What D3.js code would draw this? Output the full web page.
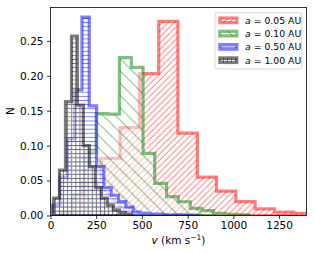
<!DOCTYPE html>
<html>
<head>
<meta charset="utf-8">
<script src="https://cdn.jsdelivr.net/npm/d3@7"></script>
<style>
body { margin: 0; background: #fff; }
text { font-family: "DejaVu Sans", sans-serif; }
</style>
</head>
<body>
<div id="chart"></div>
<script>
// tick values
const xTicks = [0, 250, 500, 750, 1000, 1250];
const yTicks = [0, 0.05, 0.10, 0.15, 0.20, 0.25];

// legend labels (a in AU)
const labels = ["0.05", "0.10", "0.50", "1.00"];

// bin edges (km/s) and fraction per bin
const redEdges = [64, 170, 275, 381, 486, 592, 697, 803, 908, 1014, 1119, 1225, 1330, 1436];
const redN = [0.005, 0.048, 0.082, 0.126, 0.203, 0.278, 0.118, 0.055, 0.035, 0.020, 0.0095, 0.005, 0.003];

const greenEdges = [55, 120, 184, 248, 313, 377, 442, 506, 570, 635, 699, 764, 828, 892, 957, 1021, 1086];
const greenN = [0.005, 0.03, 0.091, 0.146, 0.145, 0.226, 0.212, 0.089, 0.046, 0.027, 0.0197, 0.0103, 0.007, 0.003, 0.0015, 0.001];

const blueEdges = [12, 52, 92, 132, 172, 212, 252, 292, 332, 372, 412, 452, 492, 532, 572, 612, 652, 692, 732, 772, 812];
const blueN = [0.015, 0.055, 0.11, 0.180, 0.284, 0.157, 0.07, 0.04, 0.029, 0.02, 0.012, 0.005, 0.003, 0.002, 0.002, 0.001, 0.001, 0.001, 0.0005, 0.0005];

const grayEdges = [16, 49, 82, 115, 147, 180, 213, 246, 278, 311, 344, 377, 409, 442];
const grayN = [0.025, 0.065, 0.163, 0.257, 0.158, 0.10, 0.07, 0.04, 0.025, 0.015, 0.008, 0.004, 0.002];

const series = [
  {edges: redEdges, n: redN, color: "#ff0000", hatch: "h-red"},
  {edges: greenEdges, n: greenN, color: "#008000", hatch: "h-green"},
  {edges: blueEdges, n: blueN, color: "#0000ff", hatch: "h-blue"},
  {edges: grayEdges, n: grayN, color: "#000000", hatch: "h-gray"}
];

let svg_width = 315;
let svg_height = 253;
let plot = {left: 50.5, right: 306.5, top: 7.5, bottom: 215.5};

let svg = d3.select("#chart")
  .append("svg")
  .attr("width", svg_width)
  .attr("height", svg_height);

let x = d3.scaleLinear().domain([0, 1400]).range([plot.left, plot.right]);
let y = d3.scaleLinear().domain([0, 0.2978]).range([plot.bottom, plot.top]);

// hatch patterns, anchored to the page origin like matplotlib
let defs = svg.append("defs");

function diag(id, s, color, up) {
  let p = defs.append("pattern").attr("id", id)
    .attr("patternUnits", "userSpaceOnUse")
    .attr("width", s).attr("height", s);
  let d = up
    ? `M-1,1 l2,-2 M0,${s} l${s},${-s} M${s - 1},${s + 1} l2,-2`
    : `M-1,${s - 1} l2,2 M0,0 l${s},${s} M${s - 1},-1 l2,2`;
  p.append("path").attr("d", d)
    .attr("stroke", color).attr("stroke-opacity", 0.5)
    .attr("stroke-width", 1).attr("fill", "none");
}
diag("h-red", 6.15, "#ff0000", true);
diag("h-green", 12.3, "#008000", false);

let hb = defs.append("pattern").attr("id", "h-blue")
  .attr("patternUnits", "userSpaceOnUse").attr("width", 4.1).attr("height", 4.1);
hb.append("path").attr("d", "M0,2.05 H4.1")
  .attr("stroke", "#0000ff").attr("stroke-opacity", 0.5).attr("stroke-width", 1);

let hg = defs.append("pattern").attr("id", "h-gray")
  .attr("patternUnits", "userSpaceOnUse").attr("width", 4.1).attr("height", 4.1);
hg.append("path").attr("d", "M0,2.05 H4.1 M2.05,0 V4.1")
  .attr("stroke", "#000000").attr("stroke-opacity", 0.5).attr("stroke-width", 1);

defs.append("clipPath").attr("id", "clip")
  .append("rect")
  .attr("x", plot.left).attr("y", plot.top)
  .attr("width", plot.right - plot.left).attr("height", plot.bottom - plot.top);

// step outline closed on the baseline
function stepPoints(edges, n) {
  let pts = [[edges[0], 0]];
  n.forEach(function(v, i) {
    pts.push([edges[i], v]);
    pts.push([edges[i + 1], v]);
  });
  pts.push([edges[edges.length - 1], 0]);
  return pts;
}

let line = d3.line().x(d => x(d[0])).y(d => y(d[1]));

let hists = svg.append("g").attr("clip-path", "url(#clip)");

series.forEach(function(s) {
  let d = line(stepPoints(s.edges, s.n)) + "Z";
  let g = hists.append("g");
  g.append("path").attr("d", d).attr("fill", "#ffffff").attr("fill-opacity", 0.5);
  g.append("path").attr("d", d).attr("fill", `url(#${s.hatch})`);
  g.append("path").attr("d", d)
    .attr("fill", "none")
    .attr("stroke", s.color)
    .attr("stroke-opacity", 0.5)
    .attr("stroke-width", 3.2)
    .attr("stroke-linejoin", "miter");
});

// axes
let xAxis = d3.axisBottom(x).tickValues(xTicks).tickSize(3.5).tickPadding(2.5)
  .tickFormat(d3.format("d"));
let yAxis = d3.axisLeft(y).tickValues(yTicks).tickSize(3.5).tickPadding(3.5)
  .tickFormat(d3.format(".2f"));

let gx = svg.append("g").attr("transform", `translate(0, ${plot.bottom})`).call(xAxis);
let gy = svg.append("g").attr("transform", `translate(${plot.left}, 0)`).call(yAxis);

[gx, gy].forEach(function(g) {
  g.select(".domain").remove();
  g.attr("font-family", "DejaVu Sans").attr("font-size", 10.5);
  g.selectAll("line").attr("stroke", "#000").attr("stroke-width", 0.8);
  g.selectAll("text").attr("fill", "#000");
});

// frame
svg.append("rect")
  .attr("x", plot.left).attr("y", plot.top)
  .attr("width", plot.right - plot.left).attr("height", plot.bottom - plot.top)
  .attr("fill", "none").attr("stroke", "#000").attr("stroke-width", 0.8);

// axis labels
svg.append("text")
  .attr("transform", "translate(14, 111) rotate(-90)")
  .attr("text-anchor", "middle")
  .attr("font-size", 10.5)
  .text("N");

let xl = svg.append("text")
  .attr("x", (plot.left + plot.right) / 2)
  .attr("y", 244)
  .attr("text-anchor", "middle")
  .attr("font-size", 10.5);
xl.append("tspan").attr("font-style", "italic").text("v");
xl.append("tspan").text(" (km s");
xl.append("tspan").attr("font-size", 7.5).attr("dy", -4).text("\u22121");
xl.append("tspan").attr("dy", 4).text(")");

// legend
let lg = svg.append("g");
lg.append("rect")
  .attr("x", 215).attr("y", 12.7)
  .attr("width", 86.7).attr("height", 56.3)
  .attr("rx", 2).attr("ry", 2)
  .attr("fill", "#fff").attr("fill-opacity", 0.8)
  .attr("stroke", "#cccccc").attr("stroke-width", 0.8);

series.forEach(function(s, i) {
  let cy = 20.3 + i * 13.3;
  let r = lg.append("g");
  r.append("rect").attr("x", 219.8).attr("y", cy - 2.3).attr("width", 17).attr("height", 4.6)
    .attr("fill", `url(#${s.hatch})`);
  r.append("rect").attr("x", 219.8).attr("y", cy - 2.3).attr("width", 17).attr("height", 4.6)
    .attr("fill", "none").attr("stroke", s.color).attr("stroke-opacity", 0.5)
    .attr("stroke-width", 3.2);
  let t = r.append("text").attr("x", 245).attr("y", cy + 3.3).attr("font-size", 9.3);
  t.append("tspan").attr("font-style", "italic").text("a");
  t.append("tspan").text(" = " + labels[i] + " AU");
});
</script>
</body>
</html>
